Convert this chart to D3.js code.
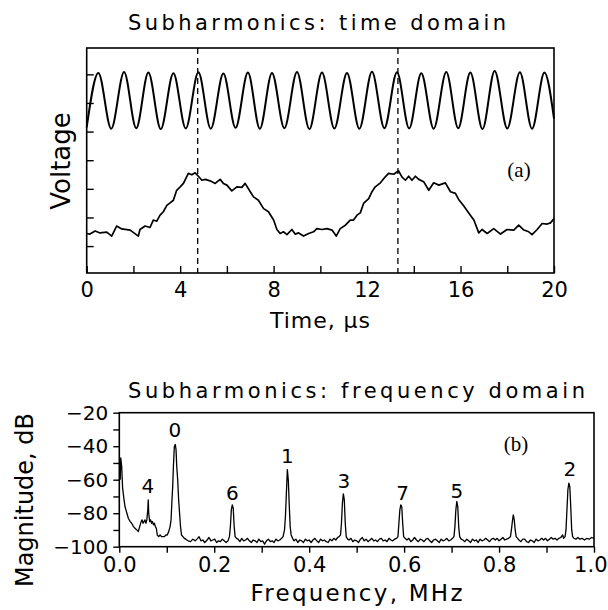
<!DOCTYPE html>
<html><head><meta charset="utf-8">
<script src="https://cdn.jsdelivr.net/npm/d3@7"></script>
<style>body{margin:0;background:#fff}svg{display:block}text{font-family:"DejaVu Sans",sans-serif;fill:#000}</style>
</head><body>
<svg id="c" width="608" height="610"></svg>
<script>
// ---- top panel: drive signal (sine) extrema, time in µs, arbitrary volts
const sineTime = [0,0.50,1.05,1.60,2.12,2.64,3.17,3.71,4.24,4.78,5.31,5.85,6.37,6.90,7.41,7.93,8.46,9.00,9.53,10.07,10.60,11.14,11.67,12.21,12.74,13.28,13.80,14.32,14.85,15.39,15.90,16.42,16.94,17.46,18.00,18.54,19.06,19.59,20];
const sineVolt = [4.15,6.05,4.10,6.08,4.12,6.06,4.09,6.04,4.11,6.07,4.10,6.03,4.13,6.06,4.10,6.05,4.12,6.08,4.09,6.06,4.11,6.05,4.10,6.09,4.12,6.07,4.11,6.04,4.10,6.08,4.12,6.06,4.09,6.12,4.11,6.07,4.10,6.06,4.45];
// ---- top panel: subharmonic response
const subTime = [0.00,0.14,0.36,0.57,0.86,1.07,1.28,1.50,1.86,2.21,2.28,2.50,2.71,2.85,3.00,3.14,3.28,3.43,3.57,3.71,3.85,4.00,4.14,4.35,4.50,4.64,4.78,4.93,5.07,5.28,5.50,5.71,5.85,6.00,6.21,6.43,6.64,6.78,7.00,7.14,7.35,7.57,7.78,8.00,8.14,8.28,8.42,8.57,8.78,8.92,9.07,9.28,9.50,9.71,9.85,10.07,10.28,10.50,10.68,10.85,11.07,11.28,11.42,11.57,11.71,11.85,12.07,12.21,12.35,12.57,12.78,12.92,13.14,13.35,13.49,13.64,13.78,13.92,14.07,14.21,14.42,14.64,14.85,15.07,15.35,15.57,15.78,15.92,16.14,16.35,16.57,16.78,16.92,17.14,17.42,17.71,17.99,18.28,18.49,18.71,18.92,19.06,19.28,19.49,19.71,19.85,20.00];
const subVolt = [0.44,0.42,0.53,0.46,0.49,0.35,0.70,0.60,0.56,0.35,0.58,0.70,0.65,0.91,0.87,1.08,1.20,1.42,1.51,1.60,1.95,2.07,2.19,2.54,2.49,2.56,2.44,2.30,2.33,2.28,2.19,2.33,2.19,2.13,1.93,2.07,2.05,2.19,1.90,1.72,1.60,1.31,1.20,0.91,0.58,0.44,0.50,0.40,0.58,0.42,0.46,0.35,0.44,0.50,0.61,0.58,0.61,0.56,0.35,0.61,0.73,0.91,0.91,1.08,1.16,1.49,1.66,1.90,2.07,2.21,2.42,2.54,2.51,2.63,2.42,2.30,2.44,2.30,2.44,2.33,2.25,1.95,2.21,2.13,2.21,1.90,1.84,1.63,1.40,1.16,0.91,0.46,0.58,0.44,0.61,0.42,0.58,0.56,0.73,0.56,0.50,0.40,0.58,0.79,0.77,0.81,0.96];
const markerTimes = [4.75, 13.32];
const timeTicks = [0,2,4,6,8,10,12,14,16,18,20];
const timeLabels = [0,4,8,12,16,20];
const voltTicks = [0,1,2,3,4,5,6];

// ---- bottom panel: spectrum, frequency MHz, magnitude dB
const freq = [0.002,0.003,0.005,0.007,0.010,0.012,0.016,0.019,0.023,0.026,0.030,0.033,0.037,0.040,0.042,0.044,0.046,0.048,0.050,0.052,0.054,0.056,0.058,0.060,0.061,0.062,0.064,0.066,0.068,0.070,0.072,0.074,0.076,0.078,0.080,0.083,0.086,0.089,0.092,0.095,0.098,0.101,0.104,0.107,0.109,0.111,0.1125,0.114,0.116,0.118,0.1195,0.121,0.123,0.125,0.127,0.129,0.131,0.134,0.137,
0.140,0.145,0.150,0.155,0.160,0.165,0.168,0.172,0.176,0.180,0.185,0.189,0.193,0.197,0.201,0.205,0.209,0.213,0.217,0.221,0.225,0.229,
0.232,0.234,0.236,0.238,0.240,0.242,0.244,0.247,
0.250,0.254,0.258,0.262,0.266,0.270,0.274,0.278,0.282,0.286,0.290,0.294,0.298,0.302,0.306,0.310,0.314,0.318,0.322,0.326,0.330,0.334,0.338,0.342,
0.345,0.348,0.350,0.352,0.354,0.356,0.358,0.360,0.362,0.365,
0.368,0.372,0.376,0.380,0.384,0.388,0.392,0.396,0.400,0.404,0.408,0.412,0.416,0.420,0.424,0.428,0.432,0.436,0.440,0.444,0.448,0.452,0.456,0.460,0.463,
0.466,0.468,0.470,0.472,0.474,0.476,0.478,0.481,
0.484,0.488,0.492,0.496,0.500,0.504,0.508,0.512,0.516,0.520,0.524,0.528,0.532,0.536,0.540,0.544,0.548,0.552,0.556,0.560,0.564,0.568,0.572,0.576,0.580,0.584,
0.587,0.589,0.591,0.593,0.595,0.597,0.599,0.602,
0.606,0.610,0.614,0.618,0.622,0.626,0.630,0.634,0.638,0.642,0.646,0.650,0.654,0.658,0.662,0.666,0.670,0.674,0.678,0.682,0.686,0.690,0.694,0.698,0.702,
0.705,0.707,0.709,0.711,0.713,0.715,0.717,0.720,
0.724,0.728,0.732,0.736,0.740,0.744,0.748,0.752,0.756,0.760,0.764,0.768,0.772,0.776,0.780,0.784,0.788,0.792,0.796,0.800,0.804,0.808,0.812,0.816,0.820,0.824,
0.826,0.828,0.830,0.832,0.834,0.836,0.839,
0.842,0.846,0.850,0.854,0.858,0.862,0.866,0.870,0.874,0.878,0.882,0.886,0.890,0.894,0.898,0.902,0.906,0.910,0.914,0.918,0.922,0.926,0.930,0.934,0.936,0.939,
0.941,0.943,0.945,0.947,0.949,0.951,0.953,0.955,0.958,
0.962,0.966,0.970,0.975,0.980,0.985,0.990,0.995,1.000];
const magDb = [-60,-47,-52,-65,-72,-76,-80,-83,-85,-86,-88,-89,-90,-91,-89,-87,-85,-84,-86,-85,-84,-86,-84,-78,-72,-80,-85,-84,-86,-85,-87,-86,-88,-89,-93,-94,-93,-94,-94,-94,-93,-93,-91,-88,-84,-72,-64,-52,-40,-39,-42,-52,-60,-72,-80,-88,-93,-94,-95,
-95.5,-96.5,-97,-95.5,-96.5,-95,-94,-96.5,-96,-97.5,-96,-94.5,-96.5,-96,-95.5,-97.5,-96.5,-97,-95.5,-96.5,-97.5,-96.5,
-94,-88,-78,-75,-77,-88,-94,-95,
-95.5,-97,-95,-96.5,-96,-95,-96.5,-97.5,-96,-96.5,-97.5,-95.5,-97,-96.5,-98.5,-96.5,-95.5,-97,-96.5,-97.5,-95.5,-96.5,-96,-95,
-94,-90,-82,-68,-54,-60,-75,-88,-93,-95,
-96.5,-95.5,-97.5,-96,-96.5,-97.5,-95.5,-96.5,-96,-97.5,-96,-95,-96.5,-97.5,-95.5,-96.5,-96,-97,-97.5,-95.5,-96.5,-95,-96,-94.5,-94,
-93,-86,-74,-68.5,-72,-86,-94,-95.5,
-96,-95,-97,-96,-96.5,-97.5,-95.5,-94.5,-96.5,-95.5,-97,-96,-95,-96.5,-96,-97,-95.5,-95,-96.5,-96,-97,-95,-96,-96.5,-95.5,-95,
-94,-86,-78,-75,-76,-86,-94,-95,
-96,-95,-97,-96,-94.5,-96,-97,-95.5,-96,-97,-95.5,-95,-96.5,-97.5,-96,-95.5,-96.5,-97.5,-95.5,-96.5,-96,-95,-96.5,-96,-95,
-94,-88,-78,-73,-76,-88,-94,-95.5,
-96,-97,-95.5,-96.5,-97.5,-95.5,-96.5,-96,-97.5,-95.5,-96.5,-96,-95,-96,-97,-95.5,-95,-96,-95,-96.5,-95.5,-94.5,-96,-95.5,-95,-94,
-90,-85,-81,-84,-90,-94,-95,
-96,-97,-95.5,-95.5,-97,-97.5,-96,-96.5,-97.5,-95.5,-96.5,-96,-95,-96,-95,-96.5,-95.5,-94.5,-95.5,-95,-96,-95,-94.5,-93,-95,-94,
-90,-78,-66,-62,-64,-76,-90,-94,-95,
-95.5,-94.5,-95.5,-95,-96,-95,-95.5,-94.5,-95];
const peakLabels = ["4","0","6","1","3","7","5","2"];
const peakLabelFreq = [0.060,0.117,0.238,0.354,0.473,0.597,0.711,0.949];
const peakLabelDb = [-68,-34.5,-72,-50,-65,-72,-71,-58];
const freqTicks = [0,0.1,0.2,0.3,0.4,0.5,0.6,0.7,0.8,0.9,1.0];
const freqLabels = [0,0.2,0.4,0.6,0.8,1.0];
const dbTicks = [-100,-90,-80,-70,-60,-50,-40,-30,-20];
const dbLabels = [-100,-80,-60,-40,-20];

const svg = d3.select("#c");
const black = "#000";

// ===== TOP PANEL =====
const xT = d3.scaleLinear().domain([0,20]).range([86.7,554]);
const yT = d3.scaleLinear().domain([-0.94,6.92]).range([273,48]);
const gT = svg.append("g");
gT.append("rect").attr("x",xT(0)).attr("y",yT(6.92)).attr("width",xT(20)-xT(0)).attr("height",yT(-0.94)-yT(6.92))
  .attr("fill","none").attr("stroke",black).attr("stroke-width",1.6);

const axTB = gT.append("g").attr("transform",`translate(0,${yT(-0.94)})`)
  .call(d3.axisBottom(xT).tickValues(timeTicks).tickSizeInner(-7).tickSizeOuter(0).tickPadding(9)
    .tickFormat(d => timeLabels.includes(d) ? String(d) : ""));
axTB.select(".domain").remove();
axTB.selectAll("line").attr("stroke-width",1.4);
axTB.selectAll("text").attr("font-size",21).attr("fill",black);

const axTL = gT.append("g").attr("transform",`translate(${xT(0)},0)`)
  .call(d3.axisLeft(yT).tickValues(voltTicks).tickSizeInner(-7).tickSizeOuter(0).tickFormat(""));
axTL.select(".domain").remove();
axTL.selectAll("line").attr("stroke-width",1.4);

markerTimes.forEach(t => {
  gT.append("line").attr("x1",xT(t)).attr("x2",xT(t)).attr("y1",yT(6.92)).attr("y2",yT(-0.94))
    .attr("stroke",black).attr("stroke-width",1.3).attr("stroke-dasharray","6,4");
});

const sineLine = d3.line().x((d,i)=>xT(sineTime[i])).y((d,i)=>yT(sineVolt[i])).curve(d3.curveMonotoneX);
gT.append("path").attr("d",sineLine(sineTime)).attr("fill","none").attr("stroke",black).attr("stroke-width",2);
const subLine = d3.line().x((d,i)=>xT(subTime[i])).y((d,i)=>yT(subVolt[i]));
gT.append("path").attr("d",subLine(subTime)).attr("fill","none").attr("stroke",black).attr("stroke-width",1.7).attr("stroke-linejoin","round");

svg.append("text").attr("x",317).attr("y",30).attr("text-anchor","middle").attr("font-size",21)
  .attr("textLength",378).attr("lengthAdjust","spacing").text("Subharmonics: time domain");
svg.append("text").attr("x",320).attr("y",328).attr("text-anchor","middle").attr("font-size",22)
  .attr("textLength",100).attr("lengthAdjust","spacing").text("Time, µs");
svg.append("text").attr("transform",`translate(70,161) rotate(-90)`).attr("text-anchor","middle").attr("font-size",26)
  .text("Voltage");
svg.append("text").attr("x",519).attr("y",177).attr("text-anchor","middle").attr("font-size",21)
  .style("font-family","'Liberation Serif',serif").text("(a)");

// ===== BOTTOM PANEL =====
const xB = d3.scaleLinear().domain([0,1]).range([119.3,594]);
const yB = d3.scaleLinear().domain([-100,-20]).range([546.7,412.7]);
const gB = svg.append("g");
gB.append("rect").attr("x",xB(0)).attr("y",yB(-20)).attr("width",xB(1)-xB(0)).attr("height",yB(-100)-yB(-20))
  .attr("fill","none").attr("stroke",black).attr("stroke-width",1.6);

const axBB = gB.append("g").attr("transform",`translate(0,${yB(-100)})`)
  .call(d3.axisBottom(xB).tickValues(freqTicks).tickSizeInner(6).tickSizeOuter(0).tickPadding(4)
    .tickFormat(d => freqLabels.some(v=>Math.abs(v-d)<1e-9) ? d3.format(".1f")(d) : ""));
axBB.select(".domain").remove();
axBB.selectAll("line").attr("stroke-width",1.4);
axBB.selectAll("text").attr("font-size",21).attr("fill",black);
// keep the last label ("1.0") inside the page edge
axBB.selectAll("text").filter(d => Math.abs(d-1) < 1e-9).attr("text-anchor","end").attr("x",13);

const axBL = gB.append("g").attr("transform",`translate(${xB(0)},0)`)
  .call(d3.axisLeft(yB).tickValues(dbTicks).tickSizeInner(6).tickSizeOuter(0).tickPadding(5)
    .tickFormat(d => dbLabels.includes(d) ? String(d).replace("-","\u2212") : ""));
axBL.select(".domain").remove();
axBL.selectAll("line").attr("stroke-width",1.4);
axBL.selectAll("text").attr("font-size",20).attr("fill",black);

const specLine = d3.line().x((d,i)=>xB(freq[i])).y((d,i)=>yB(magDb[i]));
gB.append("path").attr("d",specLine(freq)).attr("fill","none").attr("stroke",black).attr("stroke-width",1.3).attr("stroke-linejoin","round");

gB.selectAll("text.pk").data(peakLabels).join("text").attr("class","pk")
  .attr("x",(d,i)=>xB(peakLabelFreq[i])).attr("y",(d,i)=>yB(peakLabelDb[i]))
  .attr("text-anchor","middle").attr("font-size",20).text(d=>d);

svg.append("text").attr("x",356.5).attr("y",398).attr("text-anchor","middle").attr("font-size",21)
  .attr("textLength",457).attr("lengthAdjust","spacing").text("Subharmonics: frequency domain");
svg.append("text").attr("x",356.5).attr("y",601).attr("text-anchor","middle").attr("font-size",23)
  .attr("textLength",212).attr("lengthAdjust","spacing").text("Frequency, MHz");
svg.append("text").attr("transform",`translate(33,500) rotate(-90)`).attr("text-anchor","middle").attr("font-size",24)
  .text("Magnitude, dB");
svg.append("text").attr("x",516).attr("y",451).attr("text-anchor","middle").attr("font-size",21)
  .style("font-family","'Liberation Serif',serif").text("(b)");
</script>
</body></html>
